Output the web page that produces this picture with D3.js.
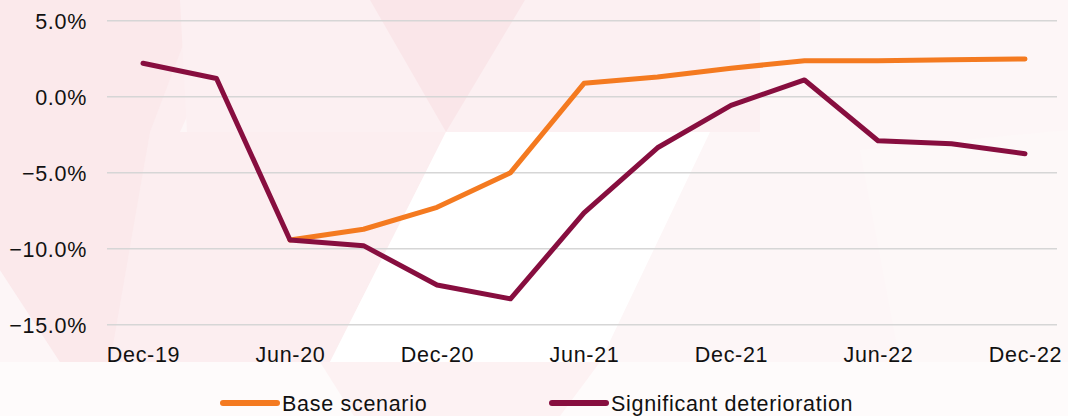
<!DOCTYPE html>
<html>
<head>
<meta charset="utf-8">
<script src="https://cdn.jsdelivr.net/npm/d3@7"></script>
<style>
  html, body { margin: 0; padding: 0; background: #fff; }
  svg { display: block; font-family: "Liberation Sans", Arial, sans-serif; }
</style>
</head>
<body>
<div id="chart"></div>
<script>
// --- dados ---
const quarters = ["Dec-19", "Mar-20", "Jun-20", "Sep-20", "Dec-20", "Mar-21", "Jun-21",
                  "Sep-21", "Dec-21", "Mar-22", "Jun-22", "Sep-22", "Dec-22"];
const tickLabels = ["Dec-19", "Jun-20", "Dec-20", "Jun-21", "Dec-21", "Jun-22", "Dec-22"];
const baseScenario = [null, null, -9.43, -8.72, -7.28, -5.0, 0.88, 1.3, 1.87, 2.37, 2.37, 2.43, 2.48];
const deterioration = [2.2, 1.2, -9.43, -9.8, -12.39, -13.3, -7.65, -3.36, -0.57, 1.1, -2.9, -3.1, -3.75];
const yTicks = [5, 0, -5, -10, -15];
const seriesNames = ["Base scenario", "Significant deterioration"];
const seriesColors = ["#f47a20", "#870e3f"];

const width = 1068, height = 416;

const svg = d3.select("#chart").append("svg")
    .attr("width", width)
    .attr("height", height)
    .attr("viewBox", [0, 0, width, height]);

// --- fundo decorativo (triângulos rosados, bem suaves) ---
const bg = svg.append("g");
bg.append("rect").attr("width", width).attr("height", height).attr("fill", "#fdf6f7");
const shapes = [
  {pts: [[0,0],[240,0],[180,132],[446,132],[330,362],[60,362],[0,270]], fill: "#fceef0"},
  {pts: [[0,0],[200,0],[150,132],[110,362],[60,362],[0,270]], fill: "#fbe9eb"},
  {pts: [[180,0],[760,0],[760,132],[187,132]], fill: "#fcf0f2"},
  {pts: [[370,0],[525,0],[446,132]], fill: "#fae6e9"},
  {pts: [[446,132],[710,132],[600,362],[330,362]], fill: "#ffffff"},
  {pts: [[0,362],[1068,362],[1068,416],[0,416]], fill: "#fefbfb"},
  {pts: [[320,362],[600,362],[560,416],[354,416]], fill: "#fdf2f3"},
  {pts: [[860,150],[1068,130],[1068,362],[900,362]], fill: "#fdf8f8"}
];
bg.selectAll("polygon").data(shapes).join("polygon")
    .attr("points", d => d.pts.map(p => p.join(",")).join(" "))
    .attr("fill", d => d.fill);

// --- escalas ---
const x = d3.scalePoint().domain(quarters).range([143, 1025]);
const y = d3.scaleLinear().domain([-15, 5]).range([324.7, 20.7]);

// grelha horizontal
svg.append("g")
  .selectAll("line")
  .data(yTicks)
  .join("line")
    .attr("x1", 107).attr("x2", 1057)
    .attr("y1", d => y(d)).attr("y2", d => y(d))
    .attr("stroke", "#d6d6d6")
    .attr("stroke-width", 1.5);

// eixo Y
const yAxis = svg.append("g")
    .attr("transform", "translate(87,0)")
    .call(d3.axisLeft(y).tickValues(yTicks).tickSize(0).tickPadding(0)
      .tickFormat(d => d3.format(".1f")(d) + "%"));
yAxis.select(".domain").remove();
yAxis.selectAll("text")
    .attr("font-size", 21.5)
    .attr("letter-spacing", 0.7)
    .attr("fill", "#111")
    .attr("dy", "0.36em");

// eixo X
const xAxis = svg.append("g")
    .attr("transform", "translate(0,335)")
    .call(d3.axisBottom(x).tickValues(tickLabels).tickSize(0).tickPadding(0));
xAxis.select(".domain").remove();
xAxis.selectAll("text")
    .attr("font-size", 21.5)
    .attr("letter-spacing", 0.7)
    .attr("fill", "#111")
    .attr("dy", "1.27em")
    .attr("y", 0);

// --- linhas ---
const line = d3.line()
    .defined(d => d != null)
    .x((d, i) => x(quarters[i]))
    .y(d => y(d));

svg.append("g")
  .selectAll("path")
  .data([baseScenario, deterioration])
  .join("path")
    .attr("d", line)
    .attr("fill", "none")
    .attr("stroke", (d, i) => seriesColors[i])
    .attr("stroke-width", 5)
    .attr("stroke-linejoin", "round")
    .attr("stroke-linecap", "round");

// --- legenda ---
const legendX = [223, 552];
const legend = svg.append("g")
  .selectAll("g")
  .data(seriesNames)
  .join("g")
    .attr("transform", (d, i) => `translate(${legendX[i]},403)`);
legend.append("line")
    .attr("x1", 0).attr("x2", 54)
    .attr("stroke", (d, i) => seriesColors[i])
    .attr("stroke-width", 6)
    .attr("stroke-linecap", "round");
legend.append("text")
    .attr("x", 59)
    .attr("dy", "0.36em")
    .attr("font-size", 21.5)
    .attr("letter-spacing", 0.7)
    .attr("fill", "#111")
    .text(d => d);
</script>
</body>
</html>
